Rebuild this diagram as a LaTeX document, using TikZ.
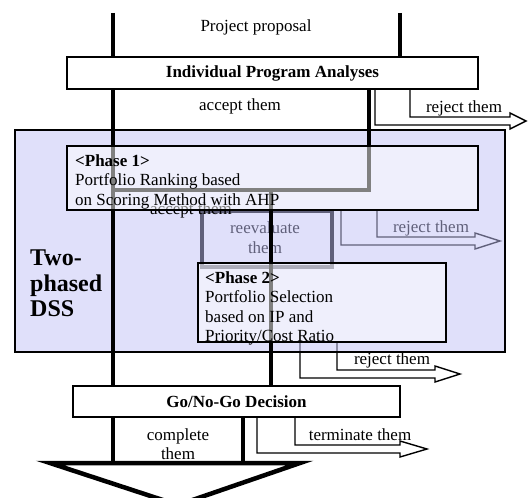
\documentclass[tikz,border=0pt]{standalone}
\usepackage{fontspec}
\setmainfont{Liberation Serif}
\definecolor{dssfill}{RGB}{193,193,245}
\tikzset{
  pipe/.style={line width=4.5pt},
  band/.style={line width=1.4pt},
  box/.style={draw, line width=1.4pt, fill=white, inner sep=0pt, font=\bfseries\fontsize{17}{19.5}\selectfont},
  phasebox/.style={line width=1.4pt, draw, fill=white, fill opacity=0.5},
  lbl/.style={font=\fontsize{17}{19.5}\selectfont, align=center, inner sep=0pt},
  phasetext/.style={font=\fontsize{17}{19.5}\selectfont, align=left, inner sep=0pt, anchor=north west},
}
% bent arrow: outer x, inner x, top y, inner y, head base x, tip x
\newcommand{\bentarrow}[6]{%
  \draw[band] (#1,#3) -- (#1,#4+8) -- (#5,#4+8) -- (#5,#4+12) -- (#6,#4+4)
    -- (#5,#4-4) -- (#5,#4) -- (#2,#4) -- (#2,#3);}
\begin{document}
\begin{tikzpicture}[x=1pt,y=-1pt]
\useasboundingbox (0,0) rectangle (529,497);
% parts lying under the DSS frame
\draw[pipe] (202,211) rectangle (332,267);
\node[lbl] (reeval) at (265,237.5) {reevaluate\\them};
\bentarrow{341}{377}{210}{237}{475}{500}
\node[lbl] (rej2) at (431,228) {reject them};
\bentarrow{300}{337}{342}{370}{435}{460}
\node[lbl] (rej3) at (392,360) {reject them};
% DSS frame
\draw[line width=1.8pt, fill=dssfill, fill opacity=0.5] (15,130) rectangle (505,352);
\node[font=\bfseries\fontsize{24}{25.5}\selectfont, align=left, inner sep=0pt, anchor=north west] (dss) at (30,250) {Two-\\phased\\DSS};
% main flow
\draw[pipe] (113,13) -- (113,57);
\draw[pipe] (400,13) -- (400,57);
\draw[pipe] (113,89) -- (113,386);
\draw[pipe] (369,89) -- (369,190) -- (113,190);
\draw[pipe] (271,190) -- (271,386);
\draw[pipe] (113,417) -- (113,463);
\draw[pipe] (243,417) -- (243,463);
\draw[pipe] (50,463) -- (300,463) -- (178,505) -- cycle;
\node[lbl] (prop) at (256,27) {Project proposal};
\node[lbl] (acc1) at (240,106) {accept them};
\node[lbl] (acc2) at (191,210) {accept them};
\node[lbl] (compl) at (178,444) {complete\\them};
% rejections outside the frame
\bentarrow{375}{410}{89}{117}{510}{526}
\node[lbl] (rej1) at (464,108) {reject them};
\bentarrow{257}{295}{417}{445}{400}{427}
\node[lbl] (term) at (360,435) {terminate them};
% boxes
\node[box, minimum width=411pt, minimum height=32pt] (ipa) at (272.5,73) {Individual Program Analyses};
\draw[phasebox] (67,146) rectangle (478,210);
\node[phasetext] (ph1) at (75,154.5) {\textbf{<Phase 1>}\\Portfolio Ranking based\\on Scoring Method with AHP};
\draw[phasebox] (198,263) rectangle (446,342);
\node[phasetext] (ph2) at (205,271.5) {\textbf{<Phase 2>}\\Portfolio Selection\\based on IP and\\Priority/Cost Ratio};
\node[box, minimum width=327pt, minimum height=31pt] (go) at (236.5,401.5) {Go/No-Go Decision};
\end{tikzpicture}
\end{document}
